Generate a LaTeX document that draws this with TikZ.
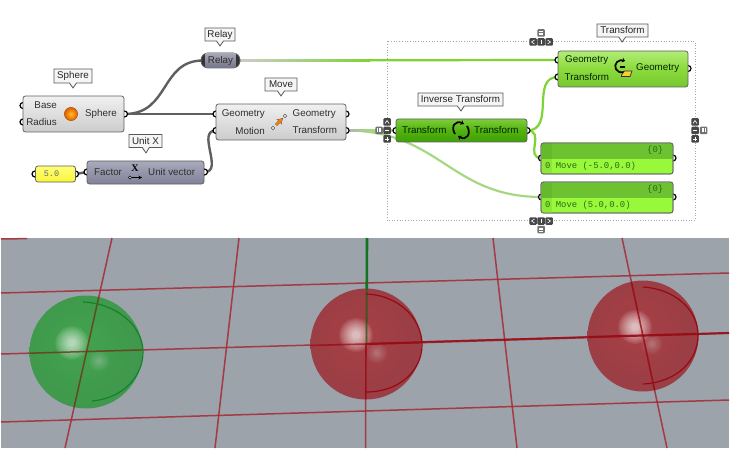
\documentclass[tikz,border=0pt]{standalone}
\usepackage{fontspec}
\setmainfont{Liberation Sans}
\setmonofont{Liberation Mono}
\usetikzlibrary{shapes.callouts,arrows.meta}
\pgfdeclarelayer{wires}
\pgfsetlayers{wires,main}
\pgfdeclareradialshading{ballg}{\pgfpoint{-3bp}{3bp}}{rgb(0bp)=(.23,.64,.27); rgb(30bp)=(.22,.59,.27); rgb(43bp)=(.26,.48,.29); rgb(50bp)=(.33,.44,.35); rgb(100bp)=(.33,.44,.35)}
\pgfdeclareradialshading{ballr}{\pgfpoint{-3bp}{3bp}}{rgb(0bp)=(.66,.22,.24); rgb(30bp)=(.60,.21,.24); rgb(43bp)=(.49,.24,.27); rgb(50bp)=(.44,.30,.33); rgb(100bp)=(.44,.30,.33)}
\definecolor{wireDark}{RGB}{95,95,95}
\definecolor{wireLive}{RGB}{125,212,50}
\definecolor{wirePale}{RGB}{165,216,130}
\definecolor{view}{RGB}{156,163,171}
\definecolor{gridRed}{RGB}{165,40,50}
\definecolor{deepRed}{RGB}{150,10,20}
\tikzset{
  x=1pt,y=-1pt,
  lbl/.style={inner sep=0pt,font=\fontsize{9.8}{11}\selectfont,text=black!82},
  lblg/.style={lbl,text=black!85!green},
  grip/.style={circle,draw=black,line width=1.2pt,fill=white,minimum size=6pt,inner sep=0pt},
  comp/.style={rectangle,rounded corners=2.5pt,draw=black!62,line width=.8pt,inner sep=0pt},
  grey comp/.style={comp,top color=black!6,bottom color=black!20},
  purple comp/.style={comp,top color={rgb,255:red,170;green,170;blue,188},bottom color={rgb,255:red,128;green,128;blue,152}},
  mid green/.style={comp,top color={rgb,255:red,125;green,205;blue,60},bottom color={rgb,255:red,62;green,160;blue,8},middle color={rgb,255:red,82;green,178;blue,14}},
  lime/.style={comp,top color={rgb,255:red,178;green,236;blue,120},bottom color={rgb,255:red,118;green,200;blue,48},middle color={rgb,255:red,140;green,218;blue,60}},
  tooltip/.style={rectangle callout,draw=black!65,line width=.8pt,fill=black!4,inner sep=0pt,callout pointer width=7pt,font=\fontsize{9.8}{11}\selectfont,text=black!85},
  panelbody/.style={comp,fill={rgb,255:red,152;green,248;blue,58},draw=black!60},
  monotxt/.style={inner sep=0pt,font=\ttfamily\fontsize{8.9}{10}\selectfont,text={rgb,255:red,45;green,105;blue,25}},
  gadget/.style={rectangle,rounded corners=1pt,fill=black!72,minimum size=7.5pt,inner sep=0pt},
  gadgetpale/.style={gadget,fill=black!55},
  glyph/.style={draw=white,line width=.6pt},
  wire/.style={line width=2.4pt,draw=wireDark},
  live/.style={line width=2.2pt,draw=wireLive},
  pale/.style={line width=2.2pt,draw=wirePale},
  gridline/.style={draw=gridRed,line width=1.5pt,opacity=.85},
  arcline/.style={line width=1.2pt},
}
\newcommand{\gbox}[5][gadget]{\node[#1] (#2) at (#3,#4) {};\draw[glyph,shift={(#3,#4)}] #5;}
\newcommand{\glow}[4]{\foreach \r in {1,.94,.88,.82,.76,.70,.64,.58,.52,.47,.42,.37,.32,.28,.24,.20}{\fill[white,fill opacity=#4] (#1,#2) circle[radius=\r*#3];}}
\begin{document}
\begin{tikzpicture}
\useasboundingbox (0,0) rectangle (730,449);
% ---------- viewport
\fill[view] (1,238) rectangle (729,448);
\draw[gridline] (1,293) -- (729,273);
\draw[gridline] (1,354) -- (729,333);
\draw[gridline] (1,422) -- (729,400);
\draw[gridline] (1,239) -- (27,238.6);
\draw[gridline] (112,238) -- (65,448);
\draw[gridline] (239,238) -- (215,448);
\draw[gridline] (366,343) -- (365.5,448);
\draw[gridline] (493,238) -- (517,448);
\draw[gridline] (622,238) -- (667,448);
\draw[line width=2.6pt,draw={rgb,255:red,20;green,115;blue,35}] (367,238) -- (366.5,343);
\draw[deepRed,line width=2.2pt,opacity=.8] (366,344) -- (729,333);
% spheres
\shade[shading=ballg,fill opacity=.92] (86,352) circle[radius=56.5];
\shade[shading=ballr,fill opacity=.92] (366,344) circle[radius=55.5];
\shade[shading=ballr,fill opacity=.92] (643,336) circle[radius=55.5];
\glow{72}{343}{17}{.06}
\glow{99}{361}{11}{.018}
\glow{356}{335}{17}{.065}
\glow{377}{353}{11}{.018}
\glow{635}{327}{17}{.065}
\glow{652}{344}{11}{.018}
% lines seen through the spheres
\begin{scope}
\clip (86,352) circle[radius=56.5];
\draw[line width=1.5pt,draw={rgb,255:red,110;green,55;blue,30},opacity=.8] (112,238) -- (65,448);
\draw[line width=1.5pt,draw={rgb,255:red,110;green,55;blue,30},opacity=.8] (1,354) -- (729,333);
\end{scope}
\begin{scope}
\clip (366,344) circle[radius=55.5];
\draw[line width=1.6pt,draw=deepRed,opacity=.8] (366,344) -- (365.5,448);
\draw[line width=1.6pt,draw=deepRed,opacity=.7] (1,354) -- (366,344);
\draw[line width=2.2pt,draw=deepRed,opacity=.9] (366,344) -- (729,333);
\draw[line width=1.8pt,draw={rgb,255:red,55;green,90;blue,35},opacity=.85] (366.8,280) -- (366.5,343);
\end{scope}
\begin{scope}
\clip (643,336) circle[radius=55.5];
\draw[line width=1.6pt,draw=deepRed,opacity=.8] (622,238) -- (667,448);
\draw[line width=2.2pt,draw=deepRed,opacity=.9] (1,354) -- (729,333);
\end{scope}
\draw[arcline,draw={rgb,255:red,20;green,130;blue,40}] (83,302) .. controls (115,303) and (143,325) .. (143,352) .. controls (143,375) and (125,398) .. (92,401);
\draw[arcline,draw=deepRed] (366,294) .. controls (398,295) and (422,318) .. (422,345) .. controls (422,370) and (400,392) .. (366,392);
\draw[arcline,draw=deepRed] (643,287) .. controls (675,289) and (698,310) .. (698,335) .. controls (698,360) and (678,382) .. (643,384);
% ---------- group
\draw[black!35,line width=.7pt,dotted] (387,41.5) rectangle (695,220.5);
% ---------- grips
\node[grip] (gBase) at (23,105.5) {};
\node[grip] (gRadius) at (23,122) {};
\node[grip] (gSphereOut) at (124.5,114) {};
\coordinate (gRelayIn) at (203,60.5);
\coordinate (gRelayOut) at (238,60.5);
\node[grip] (gSlideIn) at (35,174) {};
\node[grip] (gSlideOut) at (75.5,174) {};
\node[grip] (gFactor) at (87,172) {};
\node[grip] (gUnitOut) at (204.5,172) {};
\node[grip] (gMoveGeo) at (216,114) {};
\node[grip] (gMoveMot) at (216,130.5) {};
\node[grip] (gMoveGeoOut) at (346,114) {};
\node[grip] (gMoveTrOut) at (346,130.5) {};
\node[grip] (gInvIn) at (396,130.5) {};
\node[grip] (gInvOut) at (527,130.5) {};
\node[grip] (gTrGeo) at (558,60) {};
\node[grip] (gTrTr) at (558,77) {};
\node[grip] (gTrOut) at (688,68.5) {};
\node[grip] (gP1In) at (541.5,158) {};
\node[grip] (gP1Out) at (673,158) {};
\node[grip] (gP2In) at (541.5,197) {};
\node[grip] (gP2Out) at (673,197) {};
% ---------- wires
\begin{pgfonlayer}{wires}
\draw[wire] (gSphereOut.center) .. controls (170,114) and (160,60.5) .. (gRelayIn.center);
\draw[wire] (gSphereOut.center) -- (gMoveGeo.center);
\draw[wire] (gSlideOut.center) -- (gFactor.center);
\draw[wire] (gUnitOut.center) .. controls (224,172) and (196,130.5) .. (gMoveMot.center);
\draw[live] (gRelayOut.center) -- (gTrGeo.center);
\draw[pale] (gMoveTrOut.center) .. controls (440,130.5) and (450,197) .. (gP2In.center);
\draw[pale] (gMoveTrOut.center) -- (gInvIn.center);
\draw[live] (gInvOut.center) .. controls (556,130.5) and (530,77) .. (gTrTr.center);
\draw[live] (gInvOut.center) .. controls (546,130.5) and (524,158) .. (gP1In.center);
\shade[left color=black!20,right color=wireLive] (238,59.4) rectangle (370,61.6);
\shade[left color=black!30,right color=wirePale] (346,129.4) rectangle (372,131.6);
\end{pgfonlayer}
% ---------- components
\node[grey comp,minimum width=101pt,minimum height=36pt] (sphere) at (73.5,114) {};
\node[lbl,anchor=east] (sBase) at (57,105.5) {Base};
\node[lbl,anchor=east] (sRadius) at (57,122) {Radius};
\node[lbl,anchor=west] (sOut) at (85,114) {Sphere};
\shade[inner color={rgb,255:red,255;green,190;blue,40},outer color={rgb,255:red,226;green,92;blue,0},draw={rgb,255:red,170;green,85;blue,15},line width=.5pt] (71,114) circle[radius=6.6];
\node[tooltip,minimum width=38pt,minimum height=14pt,callout absolute pointer={(73,88)}] (tipSphere) at (73,76) {Sphere};
% relay
\node[comp,minimum width=39pt,minimum height=15pt,rounded corners=7pt,fill=black!80] (relay) at (220.5,60.5) {};
\node[rectangle,minimum width=30pt,minimum height=13.5pt,inner sep=0pt,top color={rgb,255:red,165;green,165;blue,180},bottom color={rgb,255:red,118;green,118;blue,140}] (relayBody) at (220.5,60.5) {};
\node[lbl] (relayTxt) at (220.5,60.5) {Relay};
\node[tooltip,minimum width=30pt,minimum height=13pt,callout absolute pointer={(220,46)}] (tipRelay) at (220,34.5) {Relay};
% number
\node[comp,minimum width=40pt,minimum height=16pt,top color={rgb,255:red,255;green,255;blue,120},bottom color={rgb,255:red,250;green,245;blue,60}] (slider) at (55.5,174) {};
\node[inner sep=0pt,font=\ttfamily\fontsize{8.5}{10}\selectfont,text=black!60] (sliderTxt) at (51.5,173.5) {5.0};
% unit x
\node[purple comp,minimum width=117pt,minimum height=23pt] (unitx) at (145.5,172.5) {};
\node[lbl,anchor=west] (uFactor) at (94,172) {Factor};
\node[lbl,anchor=west] (uOut) at (148,172) {Unit vector};
\node[inner sep=0pt,font=\bfseries\fontsize{10}{10}\fontspec{Liberation Serif}\selectfont] (uIcon) at (135,168) {X};
\node[circle,draw=black,fill=white,line width=.5pt,inner sep=0pt,minimum size=2.8pt] (uDot) at (130,177.5) {};
\draw[black,line width=1pt,-{Stealth[length=3.5pt,width=3.5pt]}] (uDot) -- (142,177.5);
\node[tooltip,minimum width=33pt,minimum height=13pt,callout absolute pointer={(146,153)}] (tipUnit) at (145.5,141) {Unit X};
% move
\node[grey comp,minimum width=130pt,minimum height=36pt] (move) at (281,122) {};
\node[lbl,anchor=east] (mGeo) at (265,114) {Geometry};
\node[lbl,anchor=east] (mMot) at (265,130.5) {Motion};
\node[lbl,anchor=west] (mGeoO) at (292.5,114) {Geometry};
\node[lbl,anchor=west] (mTrO) at (292.5,130.5) {Transform};
\node[circle,draw=black!70,fill=white,line width=.6pt,inner sep=0pt,minimum size=3.6pt] (mA) at (273,128) {};
\node[circle,draw=black!70,fill=white,line width=.6pt,inner sep=0pt,minimum size=3.6pt] (mB) at (285,116) {};
\draw[black!70,line width=2.6pt,-{Stealth[length=6pt,width=7pt]}] (276,125) -- (283,118);
\draw[orange,line width=2pt,-{Stealth[length=5pt,width=5.5pt]}] (276,125) -- (282.6,118.4);
\node[tooltip,minimum width=32pt,minimum height=13pt,callout absolute pointer={(281,96)}] (tipMove) at (281,84.5) {Move};
% inverse transform
\node[mid green,minimum width=131pt,minimum height=23pt] (inv) at (461.5,130.5) {};
\node[lblg,anchor=west] (iIn) at (402,130.5) {Transform};
\node[lblg,anchor=west] (iOut) at (474,130.5) {Transform};
\draw[black,line width=1.7pt,-{Stealth[length=3.5pt,width=5pt]}] (455,134) .. controls (450,126) and (456,120) .. (464,124);
\draw[black,line width=1.7pt,-{Stealth[length=3.5pt,width=5pt]}] (467,126) .. controls (472,134) and (466,141) .. (458,136);
\node[tooltip,minimum width=85pt,minimum height=13pt,callout absolute pointer={(461,111)}] (tipInv) at (460.5,99.5) {Inverse Transform};
% transform
\node[lime,minimum width=130pt,minimum height=36pt] (trans) at (623,69) {};
\node[lblg,anchor=west] (tGeo) at (565,60) {Geometry};
\node[lblg,anchor=west] (tTr) at (564.5,77) {Transform};
\node[lblg,anchor=west] (tOut) at (636,68.5) {Geometry};
\draw[black,line width=1.7pt,-{Stealth[length=3pt,width=5pt]}] (624,72) .. controls (616,74) and (613,66) .. (617,62) .. controls (619,60) and (622,60) .. (625,61);
\draw[black,line width=1.2pt] (620,67) -- (625,67);
\draw[black!80,line width=.7pt,fill={rgb,255:red,252;green,205;blue,50}] (621.5,75) -- (624.5,71) -- (632,71) -- (630,76.5) -- (621.5,76.5) -- cycle;
\node[tooltip,minimum width=51pt,minimum height=13pt,callout absolute pointer={(622,42)}] (tipTrans) at (622.5,30.5) {Transform};
% panels
\node[panelbody,minimum width=132pt,minimum height=31pt] (p1) at (607,158.5) {};
\fill[fill={rgb,255:red,108;green,194;blue,48}] (542,143.5) rectangle (672.7,159);
\fill[fill={rgb,255:red,142;green,232;blue,54}] (542,159) rectangle (552,173.5);
\fill[fill={rgb,255:red,100;green,186;blue,44}] (542,143.5) rectangle (552,159);
\draw[black!60,line width=.8pt,rounded corners=2.5pt] (541,143) rectangle (673,174);
\node[monotxt,anchor=west] (p1c) at (647,150) {\{0\}};
\node[monotxt,anchor=west] (p1t) at (545,166) {0 Move (-5.0,0.0)};
\node[panelbody,minimum width=132pt,minimum height=31pt] (p2) at (607,197.5) {};
\fill[fill={rgb,255:red,108;green,194;blue,48}] (542,182.5) rectangle (672.7,198);
\fill[fill={rgb,255:red,142;green,232;blue,54}] (542,198) rectangle (552,212.5);
\fill[fill={rgb,255:red,100;green,186;blue,44}] (542,182.5) rectangle (552,198);
\draw[black!60,line width=.8pt,rounded corners=2.5pt] (541,182) rectangle (673,213);
\node[monotxt,anchor=west] (p2c) at (647,189.5) {\{0\}};
\node[monotxt,anchor=west] (p2t) at (545,205) {0 Move (5.0,0.0)};
% ---------- gadgets
\gbox{gT1}{533}{42}{(1.5,-2)--(-1.5,0)--(1.5,2)}
\gbox{gT2}{541}{42}{(0,-2.2)--(0,2.2)}
\gbox{gT3}{549}{42}{(-1.5,-2)--(1.5,0)--(-1.5,2)}
\gbox[gadgetpale]{gT4}{541}{33}{(-2,-1.5)--(2,-1.5) (-2,0)--(2,0) (-2,1.5)--(2,1.5)}
\gbox{gB1}{533}{221}{(1.5,-2)--(-1.5,0)--(1.5,2)}
\gbox{gB2}{541}{221}{(0,-2.2)--(0,2.2)}
\gbox{gB3}{549}{221}{(-1.5,-2)--(1.5,0)--(-1.5,2)}
\gbox[gadgetpale]{gB4}{541}{229.5}{(-2,-1.5)--(2,-1.5) (-2,0)--(2,0) (-2,1.5)--(2,1.5)}
\gbox{gL1}{387}{122}{(-2,1.5)--(0,-1.5)--(2,1.5)}
\gbox{gL2}{387}{130.5}{(-2.2,0)--(2.2,0)}
\gbox{gL3}{387}{139}{(-2,0)--(2,0) (0,-2)--(0,2)}
\gbox[gadgetpale]{gL4}{379}{130.5}{(-1.5,-2)--(-1.5,2) (0,-2)--(0,2) (1.5,-2)--(1.5,2)}
\gbox{gR1}{695}{122}{(-2,1.5)--(0,-1.5)--(2,1.5)}
\gbox{gR2}{695}{130.5}{(-2.2,0)--(2.2,0)}
\gbox{gR3}{695}{139}{(-2,0)--(2,0) (0,-2)--(0,2)}
\gbox[gadgetpale]{gR4}{703.5}{130.5}{(-1.5,-2)--(-1.5,2) (0,-2)--(0,2) (1.5,-2)--(1.5,2)}
\end{tikzpicture}
\end{document}
